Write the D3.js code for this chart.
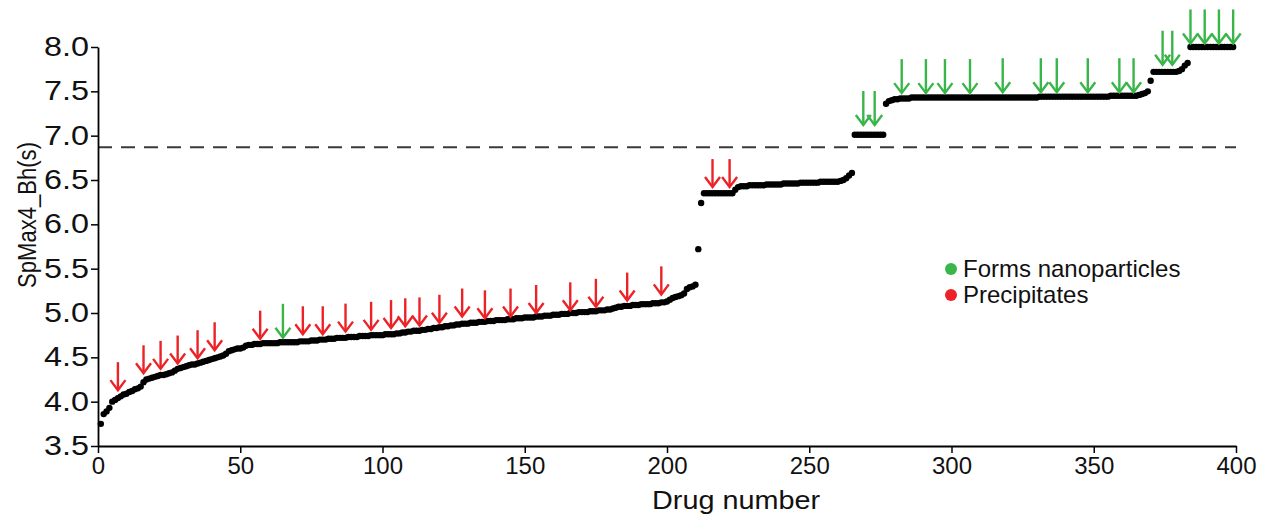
<!DOCTYPE html>
<html>
<head>
<meta charset="utf-8">
<script src="https://cdn.jsdelivr.net/npm/d3@7"></script>
<style>
  html, body { margin: 0; padding: 0; background: #fff; }
  svg { display: block; font-family: "Liberation Sans", Arial, Helvetica, sans-serif; }
</style>
</head>
<body>
<svg id="chart" width="1262" height="518"></svg>
<script>
// ---- Data ----
const values = [
  3.75, 3.86, 3.89, 3.93, 4.00, 4.02, 4.04, 4.06, 4.08, 4.09,
  4.11, 4.12, 4.14, 4.15, 4.17, 4.22, 4.25, 4.26, 4.27, 4.28,
  4.29, 4.30, 4.30, 4.31, 4.32, 4.33, 4.35, 4.37, 4.38, 4.39,
  4.40, 4.41, 4.42, 4.42, 4.43, 4.44, 4.45, 4.46, 4.47, 4.48,
  4.49, 4.50, 4.51, 4.52, 4.54, 4.57, 4.58, 4.59, 4.60, 4.60,
  4.61, 4.63, 4.64, 4.64, 4.65, 4.65, 4.65, 4.66, 4.66, 4.66,
  4.66, 4.66, 4.66, 4.67, 4.67, 4.67, 4.67, 4.67, 4.67, 4.67,
  4.68, 4.68, 4.68, 4.68, 4.69, 4.69, 4.69, 4.70, 4.70, 4.70,
  4.71, 4.71, 4.71, 4.72, 4.72, 4.72, 4.72, 4.73, 4.73, 4.73,
  4.73, 4.74, 4.74, 4.74, 4.74, 4.75, 4.75, 4.75, 4.75, 4.75,
  4.76, 4.76, 4.76, 4.76, 4.77, 4.77, 4.78, 4.78, 4.79, 4.79,
  4.80, 4.80, 4.80, 4.81, 4.81, 4.82, 4.82, 4.83, 4.83, 4.84,
  4.84, 4.85, 4.85, 4.86, 4.86, 4.87, 4.87, 4.88, 4.88, 4.88,
  4.89, 4.89, 4.89, 4.90, 4.90, 4.90, 4.91, 4.91, 4.91, 4.92,
  4.92, 4.92, 4.92, 4.93, 4.93, 4.93, 4.94, 4.94, 4.94, 4.95,
  4.95, 4.95, 4.95, 4.96, 4.96, 4.96, 4.97, 4.97, 4.97, 4.98,
  4.98, 4.98, 4.99, 4.99, 4.99, 5.00, 5.00, 5.00, 5.01, 5.01,
  5.01, 5.01, 5.02, 5.02, 5.02, 5.03, 5.03, 5.03, 5.04, 5.04,
  5.05, 5.06, 5.07, 5.07, 5.08, 5.08, 5.08, 5.09, 5.09, 5.09,
  5.10, 5.10, 5.10, 5.10, 5.11, 5.11, 5.11, 5.12, 5.12, 5.13,
  5.15, 5.17, 5.18, 5.19, 5.20, 5.22, 5.27, 5.29, 5.30, 5.32,
  5.72, 6.24, 6.35, 6.35, 6.35, 6.35, 6.35, 6.35, 6.35, 6.35,
  6.35, 6.35, 6.35, 6.39, 6.42, 6.43, 6.43, 6.43, 6.44, 6.44,
  6.44, 6.44, 6.44, 6.44, 6.45, 6.45, 6.45, 6.45, 6.45, 6.45,
  6.46, 6.46, 6.46, 6.46, 6.46, 6.46, 6.47, 6.47, 6.47, 6.47,
  6.47, 6.47, 6.47, 6.48, 6.48, 6.48, 6.48, 6.48, 6.48, 6.48,
  6.49, 6.50, 6.52, 6.55, 6.58, 7.01, 7.01, 7.01, 7.01, 7.01,
  7.01, 7.01, 7.01, 7.01, 7.01, 7.01, 7.36, 7.39, 7.40, 7.41,
  7.41, 7.42, 7.42, 7.42, 7.42, 7.43, 7.43, 7.43, 7.43, 7.43,
  7.43, 7.43, 7.43, 7.43, 7.43, 7.43, 7.43, 7.43, 7.43, 7.43,
  7.43, 7.43, 7.43, 7.43, 7.43, 7.43, 7.43, 7.43, 7.43, 7.43,
  7.43, 7.43, 7.43, 7.43, 7.43, 7.43, 7.43, 7.43, 7.43, 7.43,
  7.43, 7.43, 7.43, 7.43, 7.43, 7.43, 7.43, 7.43, 7.43, 7.43,
  7.44, 7.44, 7.44, 7.44, 7.44, 7.44, 7.44, 7.44, 7.44, 7.44,
  7.44, 7.44, 7.44, 7.44, 7.44, 7.44, 7.44, 7.44, 7.44, 7.44,
  7.44, 7.44, 7.44, 7.44, 7.44, 7.45, 7.45, 7.45, 7.45, 7.45,
  7.45, 7.45, 7.45, 7.45, 7.45, 7.46, 7.47, 7.48, 7.50, 7.62,
  7.72, 7.72, 7.72, 7.72, 7.72, 7.72, 7.72, 7.72, 7.72, 7.73,
  7.75, 7.79, 7.82, 8.00, 8.00, 8.00, 8.00, 8.00, 8.00, 8.00,
  8.00, 8.00, 8.00, 8.00, 8.00, 8.00, 8.00, 8.00, 8.00
];
// drug numbers run 1..399
const drugNumbers = values.map((v, i) => i + 1);

const threshold = 6.87;

const precipIdx = [7, 16, 22, 28, 35, 41, 57, 72, 79, 87, 96, 103, 108, 113, 120, 128, 136, 145, 154, 166, 175, 186, 198, 216, 222];
const precipTip = [4.13, 4.32, 4.37, 4.43, 4.49, 4.58, 4.71, 4.76, 4.76, 4.79, 4.81, 4.83, 4.85, 4.86, 4.89, 4.96, 4.94, 4.96, 5.00, 5.03, 5.07, 5.14, 5.21, 6.42, 6.42];

const nanoIdx = [65, 269, 273, 282.5, 291, 297.7, 306.5, 318, 331.4, 337, 347.9, 359, 364, 374.2, 377.6, 384, 389, 394, 399];
const nanoTip = [4.72, 7.12, 7.12, 7.48, 7.48, 7.48, 7.48, 7.49, 7.49, 7.49, 7.49, 7.49, 7.49, 7.80, 7.80, 8.04, 8.04, 8.04, 8.04];

const xTicks = [0, 50, 100, 150, 200, 250, 300, 350, 400];
const yTicks = [3.5, 4.0, 4.5, 5.0, 5.5, 6.0, 6.5, 7.0, 7.5, 8.0];
const legendLabels = ["Forms nanoparticles", "Precipitates"];

// ---- Drawing ----
const RED = "#ec2227", GREEN = "#39b54a";
const svg = d3.select("#chart");
const x = d3.scaleLinear().domain([0, 400]).range([98, 1236]);
const y = d3.scaleLinear().domain([3.5, 8.0]).range([446, 47]);

// dashed threshold line
svg.append("line")
  .attr("x1", x(0)).attr("x2", x(400))
  .attr("y1", y(threshold)).attr("y2", y(threshold))
  .attr("stroke", "#3a3a3a").attr("stroke-width", 2)
  .attr("stroke-dasharray", "14,9");

// points
svg.append("g").selectAll("circle")
  .data(values)
  .join("circle")
  .attr("cx", (d, i) => x(drugNumbers[i]))
  .attr("cy", d => y(d))
  .attr("r", 3.2)
  .attr("fill", "#000");

// arrows
function drawArrows(idx, tips, color, len) {
  const g = svg.append("g").attr("stroke", color).attr("stroke-width", 2.4).attr("fill", "none")
    .attr("stroke-linecap", "butt");
  idx.forEach((d, k) => {
    const cx = x(d), ty = y(tips[k]);
    g.append("line").attr("x1", cx).attr("x2", cx).attr("y1", ty - len).attr("y2", ty - 1);
    g.append("path").attr("d", `M${cx - 7.5},${ty - 10} L${cx},${ty} L${cx + 7.5},${ty - 10}`)
      .attr("stroke-linejoin", "miter");
  });
}
drawArrows(precipIdx, precipTip, RED, 28);
drawArrows(nanoIdx, nanoTip, GREEN, 34);

// axes
const yAxis = d3.axisLeft(y).tickValues(yTicks).tickFormat(d3.format(".1f")).tickSize(7).tickSizeOuter(0).tickPadding(2);
const xAxis = d3.axisBottom(x).tickValues(xTicks).tickFormat(d3.format("d")).tickSize(7).tickSizeOuter(0).tickPadding(4);

const gy = svg.append("g").attr("transform", `translate(${x(0)},0)`).call(yAxis);
const gx = svg.append("g").attr("transform", `translate(0,${y(3.5)})`).call(xAxis);
[gx, gy].forEach(g => {
  g.select(".domain").attr("stroke", "#000").attr("stroke-width", 1.8);
  g.selectAll(".tick line").attr("stroke", "#000").attr("stroke-width", 1.5);
  g.selectAll(".tick text").attr("fill", "#111")
    .style("font-family", "'Liberation Sans', Arial, sans-serif");
});
gy.selectAll(".tick text").style("font-size", "27px")
  .attr("textLength", 45).attr("lengthAdjust", "spacingAndGlyphs");
gx.selectAll(".tick text").style("font-size", "24px");

svg.append("text")
  .attr("x", 736).attr("y", 509)
  .attr("text-anchor", "middle").attr("fill", "#111")
  .style("font-size", "26px")
  .attr("textLength", 168).attr("lengthAdjust", "spacingAndGlyphs")
  .text("Drug number");

svg.append("text")
  .attr("transform", `translate(36,215) rotate(-90)`)
  .attr("text-anchor", "middle").attr("fill", "#111")
  .style("font-size", "26px")
  .attr("textLength", 146).attr("lengthAdjust", "spacingAndGlyphs")
  .text("SpMax4_Bh(s)");

// legend
const lg = svg.append("g").attr("transform", "translate(951,269)");
legendLabels.forEach((t, k) => {
  const row = lg.append("g").attr("transform", `translate(0,${k * 26})`);
  row.append("circle").attr("r", 6).attr("fill", k === 0 ? GREEN : RED);
  row.append("text").attr("x", 12).attr("y", 8).attr("fill", "#111")
    .style("font-size", "24px").text(t);
});
</script>
</body>
</html>
